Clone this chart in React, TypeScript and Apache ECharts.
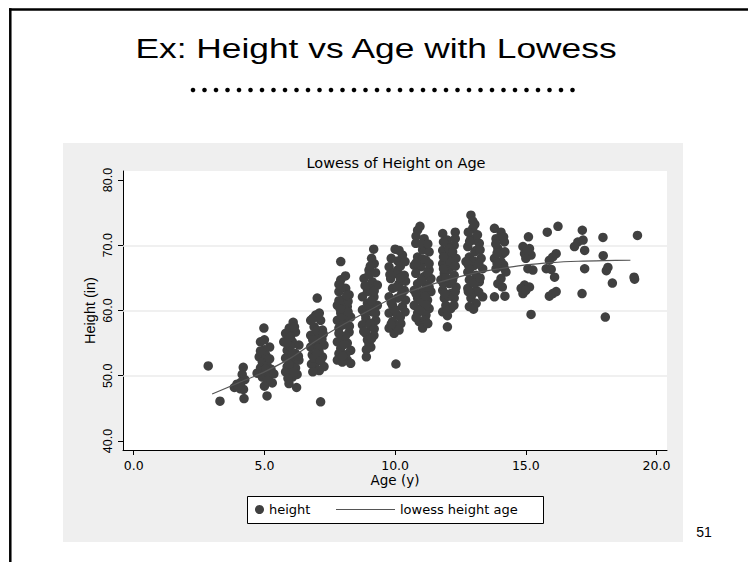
import { useEffect, useRef } from "react";
import * as echarts from "echarts";

// Axis ticks and reference lines
const xTicks = [0, 5, 10, 15, 20];
const yTicks = [40, 50, 60, 70, 80];
const yGridLines = [50, 60, 70];

// Observed (age, height) pairs, grouped by age cohort
const cohort3 = [[2.85, 51.5], [3.3, 46.1]];
const cohort4 = [[4.19, 51.3], [4.15, 50.2], [4.25, 49.4], [3.95, 48.7], [3.85, 48.2], [4.08, 48.0], [4.2, 47.9], [4.0, 48.4], [4.22, 46.5], [4.1, 49.0]];
const cohort5 = [[4.98, 57.3], [4.85, 55.2], [5.2, 54.4], [5.0, 54.0], [4.8, 52.9], [4.92, 52.1], [5.1, 51.6], [5.25, 51.0], [4.72, 50.4], [4.92, 49.8], [5.17, 49.8], [5.36, 50.3], [5.3, 48.9], [5.1, 46.9], [4.85, 51.2], [5.05, 53.2], [4.95, 50.8], [5.1, 49.3], [5.0, 55.5], [5.05, 51.0], [4.85, 53.8], [5.2, 52.6], [5.0, 48.4]];
const cohort6 = [[6.1, 58.2], [5.95, 57.3], [5.81, 56.5], [6.19, 56.7], [5.74, 55.2], [6.07, 55.2], [6.32, 54.7], [5.87, 53.9], [6.19, 53.4], [5.81, 52.7], [6.07, 52.1], [6.32, 52.4], [5.87, 51.4], [6.19, 51.2], [5.81, 50.6], [6.07, 49.8], [6.25, 50.2], [5.94, 48.8], [6.23, 48.2], [6.0, 54.5], [6.1, 50.5], [5.9, 49.6], [6.0, 56.0], [6.05, 53.3], [5.95, 51.8], [6.15, 57.5], [6.3, 53.0], [5.85, 55.0]];
const cohort7 = [[7.02, 61.9], [6.96, 59.3], [6.77, 58.5], [7.15, 58.5], [6.9, 57.5], [7.22, 57.0], [6.77, 56.2], [7.09, 56.0], [6.96, 55.0], [7.28, 54.7], [6.77, 54.4], [7.09, 53.7], [6.83, 53.2], [7.22, 52.9], [6.96, 52.1], [7.28, 51.4], [6.96, 51.1], [6.8, 51.8], [7.15, 46.0], [7.0, 57.0], [6.85, 55.5], [7.2, 55.6], [7.05, 54.2], [6.9, 52.7], [7.1, 50.8], [6.85, 58.8], [7.1, 59.6], [7.0, 53.4], [6.85, 50.6], [7.25, 56.4], [7.15, 52.3]];
const cohort8 = [[7.92, 67.5], [7.92, 64.7], [8.11, 63.4], [7.85, 62.9], [8.24, 62.4], [7.98, 61.6], [7.79, 60.8], [8.17, 60.6], [7.92, 59.6], [8.3, 59.0], [7.79, 58.5], [8.11, 58.0], [7.85, 57.3], [8.24, 56.7], [7.98, 56.0], [7.79, 55.2], [8.17, 55.0], [7.92, 54.2], [8.3, 53.9], [7.85, 53.4], [8.11, 53.2], [7.79, 52.4], [8.17, 52.4], [8.3, 51.9], [7.98, 52.1], [8.05, 61.0], [8.05, 58.7], [8.0, 57.8], [8.05, 54.8], [8.0, 59.2], [7.95, 63.6], [7.85, 61.5], [8.2, 61.4], [8.1, 56.1], [7.85, 56.5], [8.25, 57.6], [8.0, 53.0], [8.2, 59.8], [7.85, 64.0], [8.1, 65.3], [7.9, 60.2], [8.15, 62.3]];
const cohort9 = [[9.18, 69.4], [9.2, 67.2], [9.0, 66.2], [8.81, 64.9], [9.13, 64.4], [9.32, 63.9], [8.94, 62.9], [8.75, 62.1], [9.19, 62.1], [8.94, 61.1], [9.32, 60.8], [8.75, 60.1], [9.13, 59.8], [8.88, 58.8], [9.26, 58.5], [8.75, 57.8], [9.07, 57.5], [8.88, 56.5], [9.19, 56.2], [8.94, 55.5], [9.07, 54.4], [8.9, 52.9], [9.05, 63.3], [9.0, 60.5], [9.05, 58.0], [9.1, 61.5], [9.0, 65.5], [9.0, 54.8], [8.85, 63.8], [9.25, 65.8], [9.2, 63.0], [8.85, 59.5], [9.25, 59.6], [8.8, 56.8], [9.2, 57.2], [8.9, 54.0], [9.1, 55.7], [9.1, 68.0], [9.05, 66.8]];
const cohort10 = [[10.0, 69.4], [10.28, 68.5], [9.77, 66.7], [10.09, 66.2], [10.35, 65.4], [9.83, 64.9], [10.15, 64.1], [9.9, 63.4], [10.35, 63.1], [9.77, 62.1], [10.09, 61.9], [9.9, 60.8], [10.28, 60.6], [9.77, 59.6], [10.09, 59.3], [9.9, 58.3], [10.22, 58.0], [9.77, 57.3], [9.96, 56.5], [10.03, 51.8], [10.05, 63.6], [10.0, 60.1], [10.05, 57.6], [10.0, 65.7], [10.1, 67.6], [10.38, 67.5], [10.4, 64.5], [10.4, 61.6], [10.38, 59.8], [9.85, 68.0], [10.2, 66.8], [9.8, 65.5], [10.25, 62.6], [9.85, 61.2], [10.2, 59.0], [9.85, 57.9], [10.15, 57.0], [10.2, 65.0], [10.15, 69.2]];
const cohort11 = [[10.86, 72.3], [11.11, 71.0], [10.79, 70.3], [11.05, 69.3], [11.3, 69.0], [10.86, 68.2], [11.18, 67.7], [10.73, 66.9], [10.99, 66.7], [11.3, 66.2], [10.79, 65.7], [11.11, 65.2], [11.37, 64.9], [10.86, 64.1], [11.18, 63.9], [10.73, 63.1], [11.05, 62.9], [11.37, 62.9], [10.86, 61.9], [11.24, 61.6], [10.73, 60.8], [11.05, 60.6], [11.3, 60.3], [10.86, 59.6], [11.18, 59.3], [10.92, 58.3], [11.05, 57.3], [11.0, 64.6], [11.0, 61.5], [11.05, 67.9], [11.0, 70.2], [11.15, 58.6], [10.95, 60.0], [10.8, 71.4], [11.25, 70.2], [11.3, 67.2], [10.8, 67.3], [11.25, 65.8], [10.8, 62.6], [11.3, 63.6], [11.2, 60.9], [10.8, 58.9], [11.25, 58.0], [10.95, 72.9], [11.15, 62.2]];
const cohort12 = [[11.82, 71.8], [12.3, 72.0], [12.0, 70.8], [12.26, 70.0], [11.82, 69.2], [12.07, 68.5], [12.33, 68.0], [11.82, 67.2], [12.13, 66.7], [11.88, 65.7], [12.26, 65.4], [11.75, 64.7], [12.07, 64.1], [12.33, 63.6], [11.82, 63.1], [12.13, 62.6], [11.88, 61.9], [12.26, 61.9], [11.94, 60.8], [12.13, 60.3], [11.82, 59.8], [12.0, 57.5], [12.05, 69.6], [12.0, 66.2], [12.05, 62.2], [12.0, 60.0], [12.1, 67.5], [11.85, 70.5], [12.3, 71.0], [12.2, 69.0], [11.85, 68.2], [12.3, 66.8], [11.85, 66.4], [12.2, 64.7], [11.85, 64.1], [12.3, 62.9], [11.9, 62.6], [12.25, 60.8], [12.0, 59.2], [11.95, 65.0]];
const cohort13 = [[12.9, 74.6], [12.97, 73.7], [12.97, 72.6], [12.9, 71.0], [13.22, 70.3], [12.78, 69.8], [13.1, 69.2], [12.84, 68.2], [13.29, 68.0], [12.71, 67.5], [13.03, 66.9], [13.35, 66.4], [12.78, 65.9], [13.1, 65.4], [12.84, 64.7], [13.22, 64.4], [12.78, 63.4], [13.1, 63.1], [13.35, 62.1], [12.9, 61.9], [13.1, 61.1], [12.84, 60.6], [13.0, 70.8], [13.0, 67.6], [13.0, 64.2], [12.95, 62.5], [13.05, 69.0], [12.8, 72.0], [13.15, 71.6], [12.85, 70.6], [13.25, 69.3], [12.8, 67.0], [13.2, 67.2], [12.85, 66.3], [13.25, 65.0], [12.8, 62.9], [13.2, 62.8], [13.0, 60.2], [13.05, 73.2]];
const cohort14 = [[13.8, 72.6], [14.05, 72.0], [13.86, 71.0], [14.18, 70.5], [13.93, 69.5], [14.12, 68.7], [13.8, 68.0], [14.05, 67.5], [13.86, 66.4], [14.18, 66.4], [14.24, 65.9], [14.05, 64.9], [13.93, 64.1], [14.1, 63.6], [13.8, 62.1], [14.2, 62.2], [14.15, 71.3], [13.85, 70.2], [14.2, 69.0], [13.9, 68.8], [14.15, 67.0], [13.9, 67.2]];
const cohort15 = [[15.1, 71.3], [14.89, 69.8], [15.14, 69.5], [14.95, 68.7], [15.2, 68.5], [15.0, 68.0], [15.08, 66.4], [15.27, 66.2], [14.95, 63.9], [14.82, 63.4], [15.14, 63.6], [14.89, 62.6], [15.0, 63.1], [15.2, 59.4], [15.05, 69.2]];
const cohort16 = [[15.82, 72.0], [16.23, 72.9], [16.16, 68.7], [16.03, 68.2], [15.9, 67.7], [15.78, 66.4], [15.97, 66.3], [16.1, 65.1], [15.9, 62.2], [16.03, 62.6], [16.16, 62.9]];
const cohort17 = [[17.16, 72.3], [16.99, 70.5], [17.19, 70.8], [16.86, 69.8], [17.25, 69.2], [17.25, 66.4], [17.15, 62.6]];
const cohort18 = [[17.95, 71.2], [17.96, 68.4], [18.14, 66.6], [18.08, 66.1], [18.31, 64.2], [18.04, 59.0]];
const cohort19 = [[19.27, 71.5], [19.14, 65.1], [19.16, 64.8]];

// Lowess smooth of height on age
const lowessAge = [3, 4, 5, 6, 7, 8, 9, 10, 11, 12, 13, 14, 15, 16, 17, 18, 19];
const lowessHeight = [47.2, 48.9, 50.6, 52.7, 55.4, 57.8, 60.0, 62.1, 63.5, 64.7, 65.7, 66.4, 67.0, 67.35, 67.55, 67.65, 67.7];

const heightPoints = [
  ...cohort3, ...cohort4, ...cohort5, ...cohort6, ...cohort7, ...cohort8, ...cohort9,
  ...cohort10, ...cohort11, ...cohort12, ...cohort13, ...cohort14, ...cohort15,
  ...cohort16, ...cohort17, ...cohort18, ...cohort19,
];
const lowessPoints = lowessAge.map((a, i) => [a, lowessHeight[i]]);

const STATA_FONT = "DejaVu Sans";
const SLIDE_FONT = "Liberation Sans";
const LINE_COLOR = "#555555";
const fmt = (v: number) => v.toFixed(1);

export default function App() {
  const ref = useRef<HTMLDivElement>(null);

  useEffect(() => {
    if (!ref.current) return;
    const chart = echarts.init(ref.current, undefined, { renderer: "svg" });

    // row of bullet dots under the slide title
    const dots = Array.from({ length: 34 }, (_, i) => ({
      type: "circle",
      shape: { cx: 193 + i * 11.5, cy: 90, r: 2.3 },
      style: { fill: "#000" },
    }));

    const legendText = { fontFamily: STATA_FONT, fontSize: 13, color: "#000" };

    const option = {
      animation: false,
      backgroundColor: "#ffffff",
      textStyle: { fontFamily: STATA_FONT },
      title: {
        text: "Lowess of Height on Age",
        left: 391,
        top: 150,
        textAlign: "center",
        textStyle: { fontFamily: STATA_FONT, fontSize: 14.5, fontWeight: "normal", color: "#000" },
      },
      grid: {
        left: 123,
        top: 171,
        width: 544,
        height: 279,
        show: true,
        backgroundColor: "#ffffff",
        borderWidth: 0,
        containLabel: false,
        outerBoundsMode: "none",
      },
      xAxis: {
        type: "value",
        min: -0.41,
        max: 20.4,
        name: "Age (y)",
        nameLocation: "middle",
        nameGap: 23,
        nameMoveOverlap: false,
        nameTextStyle: { fontFamily: STATA_FONT, fontSize: 13.5, color: "#000" },
        axisLine: { show: true, onZero: false, lineStyle: { color: "#000", width: 1 } },
        axisTick: { show: true, length: 5, customValues: xTicks, lineStyle: { color: "#000", width: 1 } },
        axisLabel: { customValues: xTicks, formatter: fmt, margin: 9, fontFamily: STATA_FONT, fontSize: 12.5, color: "#000" },
        splitLine: { show: false },
      },
      yAxis: {
        type: "value",
        min: 38.62,
        max: 81.38,
        name: "Height (in)",
        nameLocation: "middle",
        nameGap: 26,
        nameMoveOverlap: false,
        nameTextStyle: { fontFamily: SLIDE_FONT, fontSize: 14.5, color: "#000" },
        axisLine: { show: true, onZero: false, lineStyle: { color: "#000", width: 1 } },
        axisTick: { show: true, length: 5, customValues: yTicks, lineStyle: { color: "#000", width: 1 } },
        axisLabel: { customValues: yTicks, formatter: fmt, rotate: 90, margin: 9, fontFamily: SLIDE_FONT, fontSize: 12.5, color: "#000" },
        splitLine: { show: false },
      },
      legend: [
        {
          data: ["height"],
          left: 255,
          top: 503,
          padding: 0,
          itemWidth: 9,
          itemHeight: 14,
          z: 10,
          textStyle: legendText,
        },
        {
          data: [{ name: "lowess height age", icon: "rect" }],
          left: 336,
          top: 503,
          padding: 0,
          itemWidth: 59,
          itemHeight: 1.2,
          z: 10,
          itemStyle: { color: LINE_COLOR },
          textStyle: legendText,
        },
      ],
      series: [
        {
          type: "scatter",
          name: "height",
          data: heightPoints,
          symbol: "circle",
          symbolSize: 9.5,
          itemStyle: { color: "#404040", opacity: 1 },
          z: 3,
          markLine: {
            silent: true,
            symbol: "none",
            z: 1,
            label: { show: false },
            lineStyle: { color: "#ebebeb", width: 1.5, type: "solid" },
            data: yGridLines.map((v) => ({ yAxis: v })),
          },
        },
        {
          type: "line",
          name: "lowess height age",
          data: lowessPoints,
          symbol: "none",
          showSymbol: false,
          smooth: 0.3,
          lineStyle: { color: LINE_COLOR, width: 1.2 },
          itemStyle: { color: LINE_COLOR },
          z: 4,
        },
      ],
      graphic: [
        // gray graph region behind the plot
        { type: "rect", z: -10, shape: { x: 63, y: 143, width: 620, height: 399 }, style: { fill: "#efefef" } },
        // slide frame
        { type: "line", shape: { x1: 9, y1: 9.5, x2: 748, y2: 9.5 }, style: { stroke: "#000", lineWidth: 2.5 } },
        { type: "line", shape: { x1: 10.3, y1: 8.3, x2: 10.3, y2: 562 }, style: { stroke: "#000", lineWidth: 2.5 } },
        // slide title
        {
          type: "text",
          x: 376,
          y: 48,
          scaleX: 1.24,
          style: {
            text: "Ex: Height vs Age with Lowess",
            fontFamily: SLIDE_FONT,
            fontSize: 28.5,
            fill: "#000",
            align: "center",
            verticalAlign: "middle",
            textAlign: "center",
            textVerticalAlign: "middle",
          },
        },
        ...dots,
        // legend frame
        { type: "rect", z: 5, shape: { x: 247.5, y: 496.5, width: 296, height: 27 }, style: { fill: "#fff", stroke: "#000", lineWidth: 1 } },
        // slide number
        {
          type: "text",
          x: 704,
          y: 532,
          style: {
            text: "51",
            fontFamily: SLIDE_FONT,
            fontSize: 14,
            fill: "#000",
            align: "center",
            verticalAlign: "middle",
            textAlign: "center",
            textVerticalAlign: "middle",
          },
        },
      ],
    };

    chart.setOption(option as any);
    return () => chart.dispose();
  }, []);

  return <div ref={ref} style={{ position: "absolute", left: 0, top: 0, width: 748, height: 562 }} />;
}
